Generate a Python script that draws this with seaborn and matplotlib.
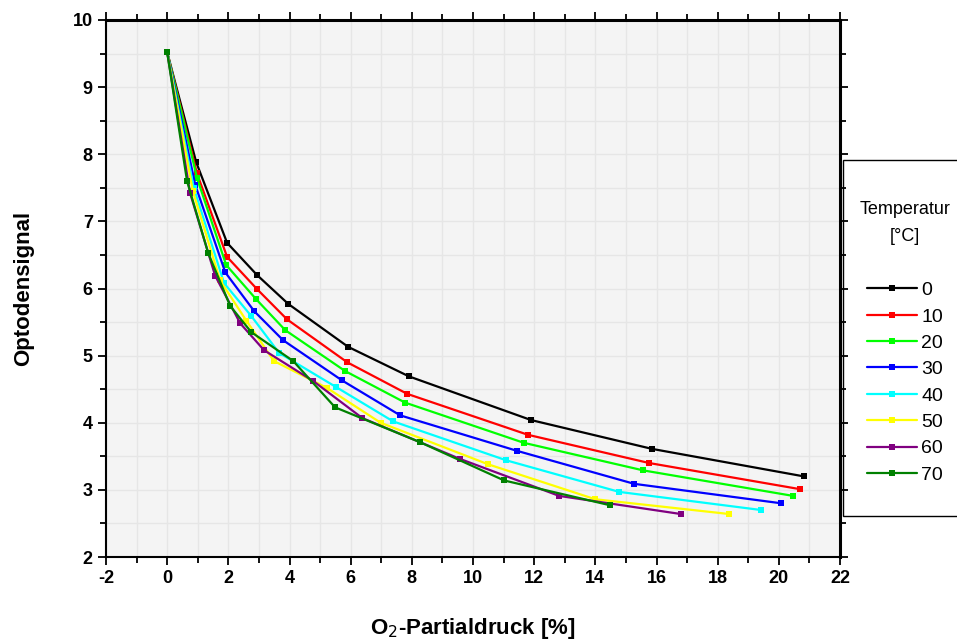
import pandas as pd
import numpy as np
import matplotlib
matplotlib.use("Agg")
import matplotlib.pyplot as plt
from matplotlib.ticker import MultipleLocator
from matplotlib.patches import Rectangle
import seaborn as sns

# ======================================================
# DATOS
# ======================================================

temperaturen = ["0", "10", "20", "30", "40", "50", "60", "70"]

x_0 = [0, 0.95, 1.96, 2.94, 3.96, 5.92, 7.91, 11.90, 15.86, 20.83]
y_0 = [9.52, 7.88, 6.68, 6.20, 5.77, 5.13, 4.69, 4.04, 3.61, 3.20]

x_10 = [0, 0.97, 1.96, 2.94, 3.92, 5.89, 7.85, 11.80, 15.76, 20.70]
y_10 = [9.52, 7.72, 6.47, 5.99, 5.54, 4.90, 4.43, 3.82, 3.40, 3.01]

x_20 = [0, 0.98, 1.93, 2.91, 3.86, 5.82, 7.78, 11.67, 15.57, 20.47]
y_20 = [9.52, 7.64, 6.35, 5.84, 5.38, 4.77, 4.30, 3.70, 3.29, 2.91]

x_30 = [0, 0.92, 1.90, 2.85, 3.79, 5.72, 7.62, 11.45, 15.27, 20.08]
y_30 = [9.52, 7.54, 6.24, 5.66, 5.23, 4.63, 4.11, 3.58, 3.09, 2.80]

x_40 = [0, 0.87, 1.86, 2.75, 3.66, 5.53, 7.39, 11.09, 14.78, 19.42]
y_40 = [9.52, 7.50, 6.08, 5.59, 5.04, 4.53, 4.02, 3.44, 2.97, 2.70]

x_50 = [0, 0.84, 1.73, 2.59, 3.49, 5.22, 6.98, 10.50, 14.00, 18.38]
y_50 = [9.52, 7.45, 6.12, 5.52, 4.92, 4.52, 4.00, 3.38, 2.86, 2.64]

x_60 = [0, 0.75, 1.57, 2.39, 3.17, 4.78, 6.38, 9.58, 12.82, 16.80]
y_60 = [9.52, 7.42, 6.19, 5.48, 5.08, 4.62, 4.07, 3.46, 2.91, 2.64]

x_70 = [0, 0.65, 1.34, 2.06, 2.75, 4.12, 5.49, 8.27, 11.02, 14.49]
y_70 = [9.52, 7.60, 6.53, 5.74, 5.35, 4.92, 4.23, 3.71, 3.14, 2.77]

farben = ["black", "red", "#00ff00", "blue", "cyan", "yellow", "purple", "green"]

# ======================================================
# TABELLE
# ======================================================

xs = [x_0, x_10, x_20, x_30, x_40, x_50, x_60, x_70]
ys = [y_0, y_10, y_20, y_30, y_40, y_50, y_60, y_70]

df = pd.concat([
    pd.DataFrame({"x": x, "y": y, "T": t})
    for x, y, t in zip(xs, ys, temperaturen)
], ignore_index=True)

# ======================================================
# FIGUR
# ======================================================

sns.set_style("ticks")
plt.rcParams["font.family"] = ["Liberation Sans", "DejaVu Sans"]
plt.rcParams["axes.unicode_minus"] = False
plt.rcParams["text.color"] = "black"
plt.rcParams["axes.labelcolor"] = "black"
plt.rcParams["xtick.color"] = "black"
plt.rcParams["ytick.color"] = "black"
plt.rcParams["axes.edgecolor"] = "black"

W, H = 957, 641
fig = plt.figure(figsize=(W/100, H/100), dpi=100)
ax = fig.add_axes([106/W, 1 - 557/H, 734/W, 537/H])
ax.set_facecolor("#f4f4f4")

sns.lineplot(data=df, x="x", y="y", hue="T", palette=farben,
             marker="s", markersize=4.5, markeredgewidth=0,
             linewidth=1.6, estimator=None, sort=False, ax=ax)

ax.set_xlim(-2, 22)
ax.set_ylim(2, 10)
ax.xaxis.set_major_locator(MultipleLocator(2))
ax.xaxis.set_minor_locator(MultipleLocator(1))
ax.yaxis.set_major_locator(MultipleLocator(1))
ax.yaxis.set_minor_locator(MultipleLocator(0.5))
ax.grid(True, which="both", color="#e6e6e6", linewidth=1)
ax.set_axisbelow(True)

ax.tick_params(which="major", direction="out", length=6, width=1.3,
               labelsize=13, right=True, top=True)
ax.tick_params(which="minor", direction="out", length=4, width=1.3,
               right=True, top=True)
for lab in ax.get_xticklabels() + ax.get_yticklabels():
    lab.set_fontweight("bold")

for s in ["left", "bottom"]:
    ax.spines[s].set_linewidth(1.5)
for s in ["top", "right"]:
    ax.spines[s].set_linewidth(2.2)
    ax.spines[s].set_visible(True)

ax.set_xlabel("O$_2$-Partialdruck [%]", fontsize=16, fontweight="bold", labelpad=21)
ax.set_ylabel("Optodensignal", fontsize=16, fontweight="bold", labelpad=28)

# legende: rahmen separat, ragt rechts aus dem bild
fig.patches.append(Rectangle((843/W, 1 - 516/H), 130/W, 356/H,
                             transform=fig.transFigure, facecolor="white",
                             edgecolor="black", linewidth=1, zorder=-1))

ax.legend_.remove()
handles, labels = ax.get_legend_handles_labels()
leg = fig.legend(handles, labels, title="Temperatur\n[°C]\n",
                 loc="upper center", bbox_to_anchor=(905/W, 1 - 201/H),
                 frameon=False, fontsize=14, title_fontsize=13,
                 handlelength=2.6, labelspacing=0.45, borderpad=0,
                 borderaxespad=0, handletextpad=0.2)
leg.get_title().set_multialignment("center")
leg.get_title().set_linespacing(1.8)
for h in leg.legend_handles:
    h.set_markersize(4)
    h.set_linewidth(1.6)

plt.savefig("out.png", dpi=100)
plt.close()
print("ok")
